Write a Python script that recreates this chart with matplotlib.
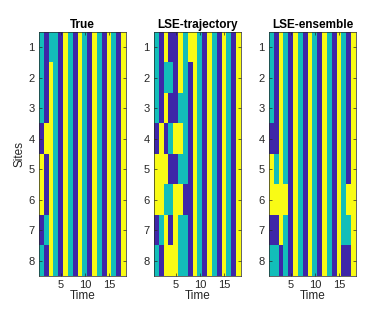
import matplotlib.pyplot as plt
import numpy as np
from matplotlib.colors import ListedColormap

# states: 1 = blue, 2 = teal, 3 = yellow
titles = ["True", "LSE-trajectory", "LSE-ensemble"]
sites = [1, 2, 3, 4, 5, 6, 7, 8]
x_ticks = [5, 10, 15]

# shared tail of every row, columns 4..18
tail = [2, 1, 3, 2, 1, 3, 2, 1, 3, 2, 1, 3, 2, 1, 3]

true_states = [
    [2, 1, 2] + tail,
    [2, 1, 3] + tail,
    [2, 1, 3] + tail,
    [1, 3, 3] + tail,
    [3, 1, 3] + tail,
    [3, 1, 3] + tail,
    [1, 2, 3] + tail,
    [2, 1, 3] + tail,
]

traj_head = [
    [2, 1, 3, 1, 1, 3, 2, 3],
    [2, 1, 2, 2, 1, 3, 2, 1],
    [2, 1, 3, 1, 1, 2, 2, 1],
    [1, 3, 1, 2, 3, 3, 2, 1],
    [3, 3, 3, 1, 1, 2, 2, 1],
    [3, 3, 2, 2, 3, 3, 1, 1],
    [1, 2, 3, 1, 3, 2, 2, 1],
    [2, 1, 3, 3, 3, 2, 2, 1],
]
traj_tail = [3, 2, 1, 3, 2, 1, 3, 2, 1, 3]
traj_states = [h + traj_tail for h in traj_head]

ens_states = [
    [2, 1, 3] + tail,
    [2, 1, 3] + tail,
    [2, 1, 3] + tail,
    [1, 1, 3] + tail,
    [3, 2, 3] + tail,
    [3, 3, 3, 3] + tail[1:12] + [2, 3, 3],
    [1, 1, 3] + tail[:12] + [2, 2, 3],
    [2, 2, 1] + tail[:12] + [1, 1, 3],
]

cmap = ListedColormap(["#3e26a8", "#12beb9", "#f9fb15"])

plt.rcParams['font.family'] = ['Liberation Sans', 'DejaVu Sans']
fig = plt.figure(figsize=(3.74, 3.22), dpi=100)

lefts = [39, 154, 269]
for i, data in enumerate([true_states, traj_states, ens_states]):
    ax = fig.add_axes([lefts[i] / 374, 46 / 322, 87 / 374, 244 / 322])
    arr = np.array(data)
    ax.imshow(arr, cmap=cmap, vmin=1, vmax=3, aspect='auto', interpolation='nearest',
              extent=(0.5, arr.shape[1] + 0.5, arr.shape[0] + 0.5, 0.5))
    ax.set_yticks(sites)
    ax.set_xticks(x_ticks)
    ax.tick_params(direction='in', top=True, right=True, labelsize=8, length=2.5,
                   width=0.5, colors='#262626', pad=3)
    for s in ax.spines.values():
        s.set_linewidth(0.5)
        s.set_color('#262626')
    ax.set_title(titles[i], fontsize=8.5, fontweight='bold', pad=3)
    ax.set_xlabel("Time", fontsize=8.5, labelpad=0, color='#262626')
    if i == 0:
        ax.set_ylabel("Sites", fontsize=8.5, labelpad=2, color='#262626')

fig.savefig("out.png", dpi=100)
